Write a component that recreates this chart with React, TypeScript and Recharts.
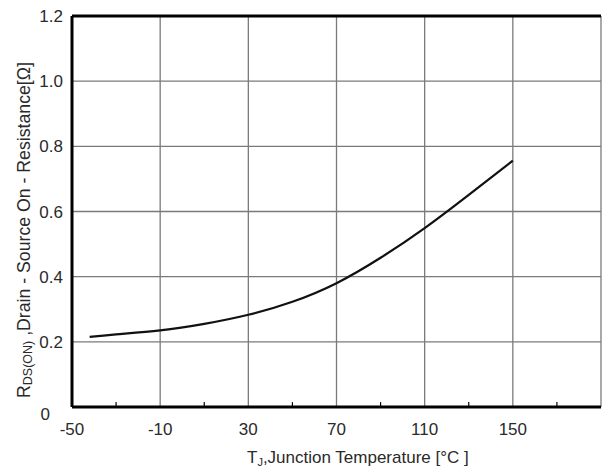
import React from 'react';
import { LineChart, Line, XAxis, YAxis, CartesianGrid, ReferenceLine } from 'recharts';

// Tj [°C] vs RDS(ON) [Ω]
const temperatures = [-42, -30, -10, 10, 30, 50, 70, 90, 110, 130, 150];
const resistance = [0.215, 0.223, 0.235, 0.255, 0.283, 0.323, 0.38, 0.458, 0.549, 0.651, 0.756];

const xTicks = [-50, -10, 30, 70, 110, 150, 190];
const xMinorTicks = [-30, 10, 50, 90, 130, 170];
const yTicks = [0, 0.2, 0.4, 0.6, 0.8, 1.0, 1.2];

const data = temperatures.map((t, i) => ({ t, r: resistance[i] }));

const FONT = '"Liberation Sans", Arial, sans-serif';
const TEXT_COLOR = '#2a2a2a';

function XTick({ x, y, payload }: any) {
  if (payload.value === 190) return null;
  return (
    <text x={x} y={y + 20} textAnchor="middle" fontFamily={FONT} fontSize={17} fill={TEXT_COLOR}>
      {payload.value}
    </text>
  );
}

function YTick({ x, y, payload }: any) {
  const v = payload.value;
  if (v === 0) {
    return (
      <text x={x - 14} y={y + 13} textAnchor="end" fontFamily={FONT} fontSize={17} fill={TEXT_COLOR}>
        0
      </text>
    );
  }
  return (
    <text x={x - 1} y={y + 6} textAnchor="end" fontFamily={FONT} fontSize={17} fill={TEXT_COLOR}>
      {v.toFixed(1)}
    </text>
  );
}

function XTitle() {
  return (
    <text x={247} y={463} textAnchor="start" fontFamily={FONT} fontSize={17} fill={TEXT_COLOR}>
      T<tspan fontSize={11} dy={3}>J</tspan>
      <tspan dy={-3}>,Junction Temperature [°C ]</tspan>
    </text>
  );
}

function YTitle() {
  return (
    <text
      x={0}
      y={0}
      transform="translate(30, 398) rotate(-90)"
      textAnchor="start"
      fontFamily={FONT}
      fontSize={17.7}
      fill={TEXT_COLOR}
    >
      R<tspan fontSize={12.5} dy={2}>DS(ON)</tspan>
      <tspan dy={-2}> ,Drain - Source On - Resistance[Ω]</tspan>
    </text>
  );
}

export default function App() {
  return (
    <div style={{ position: 'absolute', left: 0, top: 0, background: '#fff' }}>
      <LineChart width={603} height={468} data={data} margin={{ top: 16, right: 2, left: 0, bottom: 0 }}>
        <CartesianGrid stroke="#7a7a7a" strokeWidth={1.3} horizontalValues={yTicks} verticalValues={xTicks} />
        <XAxis
          dataKey="t"
          type="number"
          domain={[-50, 190]}
          ticks={xTicks}
          tick={<XTick />}
          tickLine={false}
          axisLine={{ stroke: '#000', strokeWidth: 3 }}
          height={61}
          allowDataOverflow
        />
        <YAxis
          type="number"
          domain={[0, 1.2]}
          ticks={yTicks}
          tick={<YTick />}
          tickLine={false}
          axisLine={{ stroke: '#000', strokeWidth: 3 }}
          width={72}
        />
        <ReferenceLine y={1.2} stroke="#000" strokeWidth={3} />
        {xMinorTicks.map((t) => (
          <ReferenceLine
            key={t}
            segment={[
              { x: t, y: 0 },
              { x: t, y: 0.015 },
            ]}
            stroke="#000"
            strokeWidth={1.2}
          />
        ))}
        <Line
          type="natural"
          dataKey="r"
          stroke="#111"
          strokeWidth={2.2}
          dot={false}
          isAnimationActive={false}
        />
        <XTitle />
        <YTitle />
      </LineChart>
    </div>
  );
}
